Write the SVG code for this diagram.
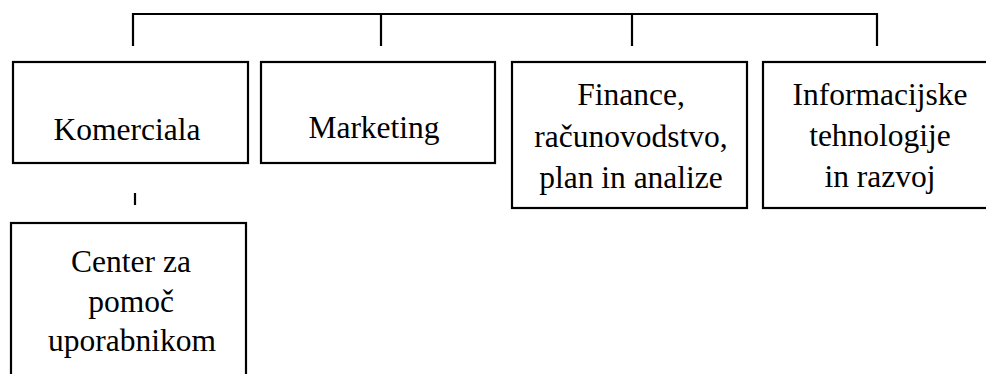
<svg xmlns="http://www.w3.org/2000/svg" width="986" height="374" viewBox="0 0 986 374">
<style>
.box{fill:#fff;stroke:#000;stroke-width:2.2}
.ln{stroke:#000;stroke-width:2.2;fill:none}
.t{font-family:'Liberation Serif','Times New Roman',Times,serif;font-size:31.5px;fill:#000;text-anchor:middle}
</style>
<rect width="986" height="374" fill="#fff"/>
<g id="connectors">
<path class="ln" d="M133,46 V14 H877 V46 M381,14 V46 M632,14 V46"/>
<path class="ln" d="M135,193 V205"/>
</g>
<g id="komerciala">
<rect class="box" x="13" y="62" width="235" height="101"/>
<text class="t" x="127" y="140" font-family="Liberation Serif">Komerciala</text>
</g>
<g id="marketing">
<rect class="box" x="261" y="62" width="234" height="101"/>
<text class="t" x="374" y="138" font-family="Liberation Serif">Marketing</text>
</g>
<g id="finance">
<rect class="box" x="512" y="62" width="235" height="146"/>
<text class="t" x="631" y="105" font-family="Liberation Serif">Finance,</text>
<text class="t" x="631" y="147" font-family="Liberation Serif">računovodstvo,</text>
<text class="t" x="631" y="188" font-family="Liberation Serif">plan in analize</text>
</g>
<g id="informacijske">
<rect class="box" x="763" y="62" width="240" height="146"/>
<text class="t" x="880" y="105" font-family="Liberation Serif">Informacijske</text>
<text class="t" x="880" y="146" font-family="Liberation Serif">tehnologije</text>
<text class="t" x="880" y="187" font-family="Liberation Serif">in razvoj</text>
</g>
<g id="center">
<rect class="box" x="11" y="223" width="235" height="170"/>
<text class="t" x="131" y="272" font-family="Liberation Serif">Center za</text>
<text class="t" x="131" y="312" font-family="Liberation Serif">pomoč</text>
<text class="t" x="132" y="351" font-family="Liberation Serif">uporabnikom</text>
</g>
</svg>
